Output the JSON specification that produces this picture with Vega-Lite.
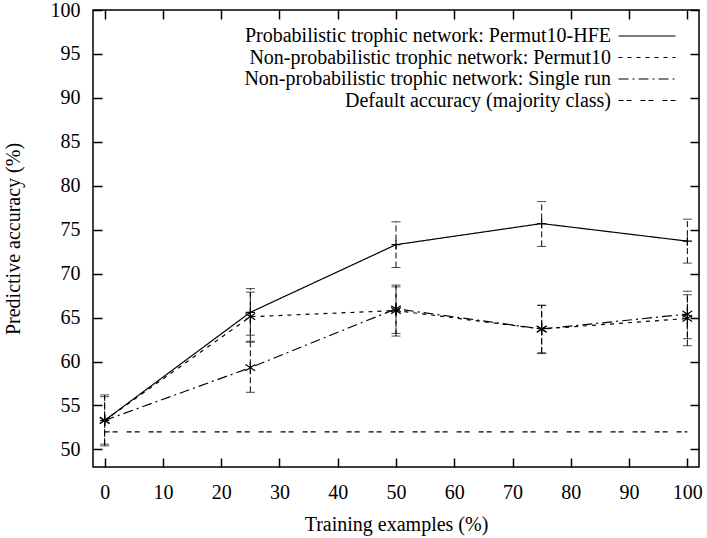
{
  "$schema": "https://vega.github.io/schema/vega-lite/v6.json",
  "width": 606,
  "height": 457,
  "autosize": {"type": "none"},
  "padding": {"left": 93, "top": 10, "right": 8, "bottom": 71},
  "background": "white",
  "config": {
    "font": "Liberation Serif",
    "view": {"stroke": "black", "strokeWidth": 1.5},
    "axis": {
      "domain": false, "grid": false,
      "tickColor": "black", "tickSize": -9, "tickWidth": 1.5,
      "labelFont": "Liberation Serif", "labelFontSize": 20, "labelColor": "black",
      "titleFont": "Liberation Serif", "titleFontSize": 20, "titleFontWeight": "normal", "titleColor": "black"
    },
    "legend": {
      "orient": "none", "legendX": 543, "legendY": 15,
      "padding": 0,
      "symbolType": "M-2.85,0L2.85,0", "symbolSize": 400, "symbolStrokeWidth": 1.2,
      "labelAlign": "right", "labelOffset": -47, "labelLimit": 0,
      "labelFont": "Liberation Serif", "labelFontSize": 20, "labelColor": "black",
      "rowPadding": 0.5
    }
  },
  "datasets": {
    "lines": [
      {"series": "Probabilistic trophic network: Permut10-HFE", "x": 0, "y": 53.3},
      {"series": "Probabilistic trophic network: Permut10-HFE", "x": 25, "y": 65.6},
      {"series": "Probabilistic trophic network: Permut10-HFE", "x": 50, "y": 73.3},
      {"series": "Probabilistic trophic network: Permut10-HFE", "x": 75, "y": 75.7},
      {"series": "Probabilistic trophic network: Permut10-HFE", "x": 100, "y": 73.7},
      {"series": "Non-probabilistic trophic network: Permut10", "x": 0, "y": 53.3},
      {"series": "Non-probabilistic trophic network: Permut10", "x": 25, "y": 65.1},
      {"series": "Non-probabilistic trophic network: Permut10", "x": 50, "y": 65.8},
      {"series": "Non-probabilistic trophic network: Permut10", "x": 75, "y": 63.7},
      {"series": "Non-probabilistic trophic network: Permut10", "x": 100, "y": 64.9},
      {"series": "Non-probabilistic trophic network: Single run", "x": 0, "y": 53.3},
      {"series": "Non-probabilistic trophic network: Single run", "x": 25, "y": 59.3},
      {"series": "Non-probabilistic trophic network: Single run", "x": 50, "y": 66.0},
      {"series": "Non-probabilistic trophic network: Single run", "x": 75, "y": 63.7},
      {"series": "Non-probabilistic trophic network: Single run", "x": 100, "y": 65.4},
      {"series": "Default accuracy (majority class)", "x": 0, "y": 52},
      {"series": "Default accuracy (majority class)", "x": 100, "y": 52}
    ],
    "bars": [
      {"series": "HFE", "x": 0, "lo": 50.4, "hi": 56.2},
      {"series": "HFE", "x": 25, "lo": 63.0, "hi": 68.3},
      {"series": "HFE", "x": 50, "lo": 70.7, "hi": 75.9},
      {"series": "HFE", "x": 75, "lo": 73.1, "hi": 78.2},
      {"series": "HFE", "x": 100, "lo": 71.2, "hi": 76.2},
      {"series": "Permut10", "x": 0, "lo": 50.6, "hi": 56.0},
      {"series": "Permut10", "x": 25, "lo": 62.3, "hi": 67.9},
      {"series": "Permut10", "x": 50, "lo": 62.9, "hi": 68.7},
      {"series": "Permut10", "x": 75, "lo": 60.9, "hi": 66.4},
      {"series": "Permut10", "x": 100, "lo": 61.8, "hi": 68.0},
      {"series": "Single", "x": 25, "lo": 56.5, "hi": 62.2},
      {"series": "Single", "x": 50, "lo": 63.2, "hi": 68.5},
      {"series": "Single", "x": 75, "lo": 61.0, "hi": 66.4},
      {"series": "Single", "x": 100, "lo": 62.6, "hi": 67.6}
    ]
  },
  "resolve": {"axis": {"x": "independent", "y": "independent"}},
  "layer": [
    {
      "data": {"name": "bars"},
      "mark": {"type": "rule", "color": "black", "strokeWidth": 1, "strokeDash": [6, 3]},
      "encoding": {
        "x": {"field": "x", "type": "quantitative", "scale": {"domain": [-2, 102], "nice": false, "zero": false},
              "axis": {"values": [0, 10, 20, 30, 40, 50, 60, 70, 80, 90, 100], "title": "Training examples (%)", "labelPadding": 24, "titlePadding": 12}},
        "y": {"field": "lo", "type": "quantitative", "scale": {"domain": [48, 100], "nice": false, "zero": false},
              "axis": {"values": [50, 55, 60, 65, 70, 75, 80, 85, 90, 95, 100], "title": "Predictive accuracy (%)", "labelPadding": 22, "titlePadding": 27}},
        "y2": {"field": "hi"}
      }
    },
    {
      "data": {"name": "bars"},
      "mark": {"type": "tick", "color": "black", "orient": "horizontal", "size": 9, "thickness": 1},
      "encoding": {
        "x": {"field": "x", "type": "quantitative", "axis": null},
        "y": {"field": "lo", "type": "quantitative", "axis": null}
      }
    },
    {
      "data": {"name": "bars"},
      "mark": {"type": "tick", "color": "black", "orient": "horizontal", "size": 9, "thickness": 1},
      "encoding": {
        "x": {"field": "x", "type": "quantitative", "axis": null},
        "y": {"field": "hi", "type": "quantitative", "axis": null}
      }
    },
    {
      "data": {"name": "lines"},
      "mark": {"type": "line", "color": "black", "strokeWidth": 1.2},
      "encoding": {
        "x": {"field": "x", "type": "quantitative", "axis": {"orient": "top", "labels": false, "title": null, "values": [0, 10, 20, 30, 40, 50, 60, 70, 80, 90, 100]}},
        "y": {"field": "y", "type": "quantitative", "axis": {"orient": "right", "labels": false, "title": null, "values": [50, 55, 60, 65, 70, 75, 80, 85, 90, 95, 100]}},
        "strokeDash": {
          "field": "series", "type": "nominal",
          "scale": {
            "domain": ["Probabilistic trophic network: Permut10-HFE", "Non-probabilistic trophic network: Permut10", "Non-probabilistic trophic network: Single run", "Default accuracy (majority class)"],
            "range": [[1, 0], [4, 5], [10, 4, 2, 4], [5, 3, 5, 9]]
          },
          "legend": {"title": null}
        }
      }
    },
    {
      "data": {"name": "lines"},
      "transform": [{"filter": "datum.series !== 'Default accuracy (majority class)'"}],
      "mark": {"type": "point", "color": "black", "filled": false, "strokeWidth": 1.2, "size": 130, "opacity": 1},
      "encoding": {
        "x": {"field": "x", "type": "quantitative", "axis": null},
        "y": {"field": "y", "type": "quantitative", "axis": null},
        "shape": {
          "field": "series", "type": "nominal",
          "scale": {
            "domain": ["Probabilistic trophic network: Permut10-HFE", "Non-probabilistic trophic network: Permut10", "Non-probabilistic trophic network: Single run"],
            "range": ["M-0.8,0L0.8,0M0,-0.8L0,0.8", "M0,-1L0,1M-0.85,-0.55L0.85,0.55M-0.85,0.55L0.85,-0.55", "M0,-1L0,1M-0.85,-0.55L0.85,0.55M-0.85,0.55L0.85,-0.55"]
          },
          "legend": null
        }
      }
    }
  ]
}
